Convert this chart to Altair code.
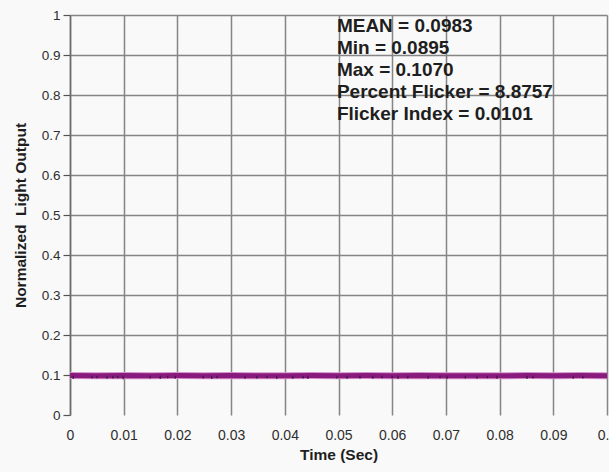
import altair as alt
import pandas as pd

# Series
times = [0.0, 0.005, 0.01, 0.015, 0.02, 0.025, 0.03, 0.035, 0.04, 0.045, 0.05,
         0.055, 0.06, 0.065, 0.07, 0.075, 0.08, 0.085, 0.09, 0.095, 0.1]
values = [0.0985, 0.0980, 0.0988, 0.0981, 0.0986, 0.0979, 0.0989, 0.0983, 0.0980, 0.0987, 0.0981,
          0.0985, 0.0979, 0.0988, 0.0982, 0.0984, 0.0980, 0.0987, 0.0981, 0.0985, 0.0983]

spike_times = [0.0006, 0.0041, 0.0050, 0.0069, 0.0080, 0.0089, 0.0099, 0.0149, 0.0168, 0.0182,
               0.0196, 0.0248, 0.0264, 0.0274, 0.0326, 0.0348, 0.0367, 0.0385, 0.0415, 0.0434,
               0.0443, 0.0497, 0.0516, 0.0540, 0.0564, 0.0581, 0.0600, 0.0611, 0.0629, 0.0667,
               0.0689, 0.0702, 0.0736, 0.0758, 0.0777, 0.0795, 0.0851, 0.0862, 0.0937, 0.0955]
spike_lows = [0.0900, 0.0915, 0.0920, 0.0905, 0.0910, 0.0918, 0.0895, 0.0912, 0.0903, 0.0916,
              0.0908, 0.0914, 0.0900, 0.0919, 0.0906, 0.0911, 0.0917, 0.0902, 0.0909, 0.0913,
              0.0898, 0.0915, 0.0907, 0.0912, 0.0904, 0.0918, 0.0910, 0.0901, 0.0914, 0.0908,
              0.0916, 0.0903, 0.0911, 0.0906, 0.0919, 0.0909, 0.0902, 0.0913, 0.0907, 0.0915]

stat_labels = ["MEAN", "Min", "Max", "Percent Flicker", "Flicker Index"]
stat_values = ["0.0983", "0.0895", "0.1070", "8.8757", "0.0101"]
stat_y = [0.9575, 0.903, 0.8475, 0.792, 0.737]
stat_x = 0.0497

x_ticks = [0, 0.01, 0.02, 0.03, 0.04, 0.05, 0.06, 0.07, 0.08, 0.09, 0.1]
y_ticks = [0, 0.1, 0.2, 0.3, 0.4, 0.5, 0.6, 0.7, 0.8, 0.9, 1.0]

line_df = pd.DataFrame({"t": times, "v": values})
spike_df = pd.DataFrame({"t": spike_times, "v": spike_lows, "mid": [0.0983] * len(spike_times)})
text_df = pd.DataFrame({
    "t": [stat_x] * len(stat_labels),
    "v": stat_y,
    "label": [f"{a} = {b}" for a, b in zip(stat_labels, stat_values)],
})

grid_color = "#858585"
x_scale = alt.Scale(domain=[0, 0.1], nice=False, zero=False)
y_scale = alt.Scale(domain=[0, 1], nice=False)

x_axis = alt.Axis(
    title="Time (Sec)", values=x_ticks, format="~g", domain=False, ticks=False,
    grid=True, gridColor=grid_color, gridWidth=1.5, tickCount=11,
    labelFont="Liberation Sans", labelFontSize=14, labelColor="#2e2e2e", labelPadding=13,
    labelFlush=False, labelOverlap=False,
    titleFont="Liberation Sans", titleFontSize=15.5, titleFontWeight="bold", titleColor="#1e1e1e",
    titlePadding=5,
)
y_axis = alt.Axis(
    title="Normalized\u00a0\u00a0Light Output", values=y_ticks, format="~g", tickCount=11,
    domain=True, domainColor="#6a6a6a", domainWidth=1.5,
    ticks=True, tickSize=7, tickColor="#555555", tickWidth=1.2,
    grid=True, gridColor=grid_color, gridWidth=1.5,
    gridOpacity={"expr": "datum.value === 0 ? 0 : 1"},
    labelFont="Liberation Sans", labelFontSize=13.5, labelColor="#2e2e2e", labelPadding=3,
    labelFlush=False, labelOverlap=False, labelSeparation=0,
    titleFont="Liberation Sans", titleFontSize=15.5, titleFontWeight="bold", titleColor="#1e1e1e",
    titlePadding=13,
)

x_enc = alt.X("t:Q", scale=x_scale, axis=x_axis)
y_enc = alt.Y("v:Q", scale=y_scale, axis=y_axis)

halo = alt.Chart(line_df).mark_line(color="#d58fcb", strokeWidth=7).encode(x=x_enc, y=y_enc)
main = alt.Chart(line_df).mark_line(color="#8a1b7e", strokeWidth=5).encode(x=x_enc, y=y_enc)
spikes = alt.Chart(spike_df).mark_rule(color="#3b1840", strokeWidth=1.2).encode(
    x=x_enc, y=y_enc, y2="mid:Q")
texts = alt.Chart(text_df).mark_text(
    align="left", baseline="alphabetic", font="Liberation Sans", fontWeight="bold",
    fontSize=19, color="#1e1e1e",
).encode(x=x_enc, y=y_enc, text="label:N")

chart = alt.layer(halo, main, spikes, texts).properties(
    width=537, height=400,
    background="#f9f9f9",
    padding={"left": 70, "top": 15, "right": 2, "bottom": 57},
    autosize=alt.AutoSizeParams(type="none"),
).configure_view(stroke=None)

chart.save("out.html", embed_options={"renderer": "svg", "actions": False})
